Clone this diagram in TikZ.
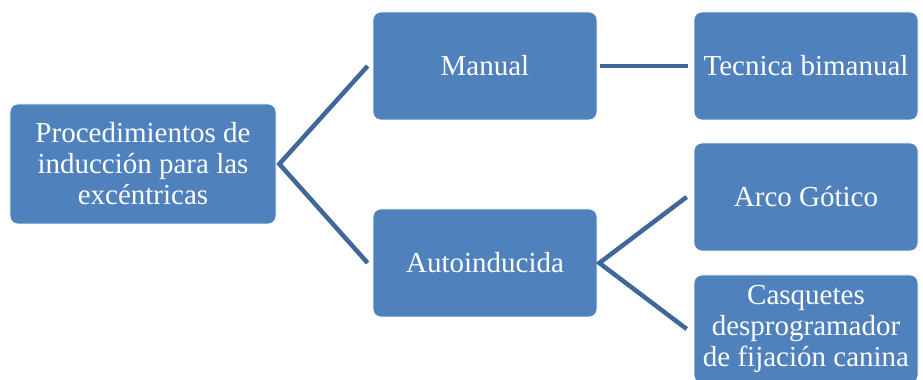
\documentclass[tikz,border=0pt]{standalone}
\usepackage{fontspec}
\setmainfont{Liberation Serif}
\definecolor{boxblue}{RGB}{79, 129, 189}
\definecolor{lineblue}{RGB}{64, 103, 154}
\usepackage{tikz}

\begin{document}
\begin{tikzpicture}[
        caja/.style={fill=boxblue, draw=white, line width=0.4pt, rounded corners=0.16cm,
            text=white, align=center, inner sep=0pt,
            font=\fontsize{16.5}{17.6}\selectfont},
        cajaraiz/.style={caja, minimum width=5.32cm, minimum height=2.4cm},
        cajahija/.style={caja, minimum width=4.48cm, minimum height=2.16cm},
        enlace/.style={draw=lineblue, line width=0.09cm}
    ]
        \useasboundingbox (0,0) rectangle (18.46,7.6);

        % Boxes
        \node[cajaraiz] (raiz) at (2.86,4.32) {Procedimientos de\\inducción para las\\excéntricas};
        \node[cajahija] (manual) at (9.70,6.28) {Manual};
        \node[cajahija] (auto) at (9.70,2.34) {Autoinducida};
        \node[cajahija] (tecnica) at (16.12,6.28) {Tecnica bimanual};
        \node[cajahija] (arco) at (16.12,3.66) {Arco Gótico};
        \node[cajahija] (casq) at (16.12,1.02) {Casquetes\\desprogramador\\de fijación canina};

        % Connectors
        \draw[enlace] ([xshift=-0.1cm]manual.west) -- ([xshift=0.06cm]raiz.east) -- ([xshift=-0.1cm]auto.west);
        \draw[enlace] ([xshift=0.06cm]manual.east) -- ([xshift=-0.12cm]tecnica.west);
        \draw[enlace] ([xshift=-0.14cm]arco.west) -- ([xshift=0.04cm]auto.east) -- ([xshift=-0.14cm]casq.west);
    \end{tikzpicture}
\end{document}
